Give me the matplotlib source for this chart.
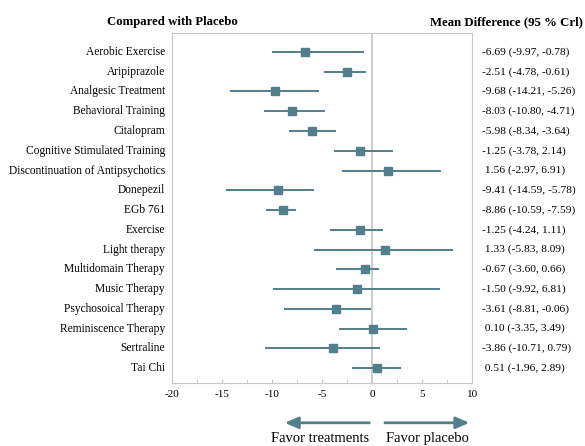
import numpy as np
import matplotlib.pyplot as plt
import matplotlib.transforms as mtransforms

# Datos del forest plot
tratamientos = ["Aerobic Exercise", "Aripiprazole", "Analgesic Treatment", "Behavioral Training",
                "Citalopram", "Cognitive Stimulated Training", "Discontinuation of Antipsychotics",
                "Donepezil", "EGb 761", "Exercise", "Light therapy", "Multidomain Therapy",
                "Music Therapy", "Psychosoical Therapy", "Reminiscence Therapy", "Sertraline", "Tai Chi"]
md = np.array([-6.69, -2.51, -9.68, -8.03, -5.98, -1.25, 1.56, -9.41, -8.86,
               -1.25, 1.33, -0.67, -1.50, -3.61, 0.10, -3.86, 0.51])
inf = np.array([-9.97, -4.78, -14.21, -10.80, -8.34, -3.78, -2.97, -14.59, -10.59,
                -4.24, -5.83, -3.60, -9.92, -8.81, -3.35, -10.71, -1.96])
sup = np.array([-0.78, -0.61, -5.26, -4.71, -3.64, 2.14, 6.91, -5.78, -7.59,
                1.11, 8.09, 0.66, 6.81, -0.06, 3.49, 0.79, 2.89])

color = "#527f8c"
plt.rcParams["font.family"] = ["Liberation Serif", "DejaVu Serif"]
plt.rcParams["axes.unicode_minus"] = False

fig = plt.figure(figsize=(5.85, 4.46), dpi=100)
ax = fig.add_axes([0.294, 0.141, 0.513, 0.785])

y = np.arange(len(tratamientos))
ax.axvline(0, color="#c4c4c4", lw=1.2, zorder=1)
ax.errorbar(md, y, xerr=[md - inf, sup - md], fmt="s", color=color, ms=5.5,
            elinewidth=1.4, capsize=0, zorder=3)

ax.set_xlim(-20, 10)
ax.set_ylim(16.76, -0.96)
ax.set_yticks([])
ax.set_xticks(np.arange(-20, 11, 5))
ax.set_xticks(np.arange(-20, 11, 2.5), minor=True)
ax.tick_params(axis="x", which="both", direction="in", colors="#c4c4c4", labelcolor="black",
               labelsize=8, length=3, pad=5)
for s in ax.spines.values():
    s.set_color("#c8c8c8")

# Etiquetas de tratamientos y columna de diferencias
trans_izq = mtransforms.blended_transform_factory(fig.transFigure, ax.transData)
for i, nombre in enumerate(tratamientos):
    ax.text(165 / 585, i, nombre, transform=trans_izq, ha="right", va="center", fontsize=8.3)
    prefijo = "" if md[i] < 0 else " "
    txt = f"{prefijo}{md[i]:.2f} ({inf[i]:.2f}, {sup[i]:.2f})"
    ax.text(482 / 585, i, txt, transform=trans_izq, ha="left", va="center", fontsize=8.2)

fig.text(172 / 585, 1 - 22 / 446, "Compared with Placebo", ha="center", va="center",
         fontsize=9.2, fontweight="bold")
fig.text(583 / 585, 1 - 22 / 446, "Mean Difference (95 % Crl)", ha="right", va="center",
         fontsize=9.2, fontweight="bold")

# Flechas de interpretación
trans_aba = mtransforms.blended_transform_factory(ax.transData, fig.transFigure)
flecha = dict(arrowstyle="-|>,head_length=0.8,head_width=0.35", color=color, lw=2)
ax.annotate("", xy=(-9, 0.052), xytext=(0, 0.052), xycoords=trans_aba, textcoords=trans_aba,
            arrowprops=flecha, annotation_clip=False)
ax.annotate("", xy=(10, 0.052), xytext=(1, 0.052), xycoords=trans_aba, textcoords=trans_aba,
            arrowprops=flecha, annotation_clip=False)
ax.text(-5.2, 0.016, "Favor treatments", transform=trans_aba, ha="center", va="center", fontsize=10.5)
ax.text(5.5, 0.016, "Favor placebo", transform=trans_aba, ha="center", va="center", fontsize=10.5)

fig.savefig("out.png", dpi=100)
